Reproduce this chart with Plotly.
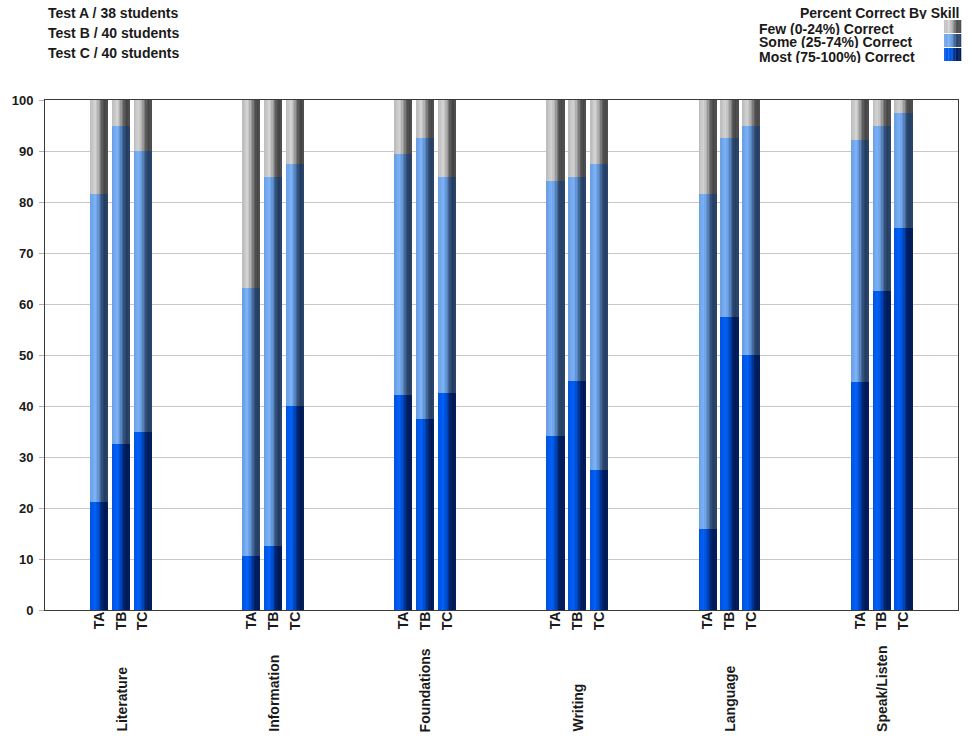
import plotly.graph_objects as go

# ---------------- data ----------------
skills = ["Literature", "Information", "Foundations", "Writing", "Language", "Speak/Listen"]
test_codes = ["TA", "TB", "TC"]
header_lines = ["Test A / 38 students", "Test B / 40 students", "Test C / 40 students"]
legend_title = "Percent Correct By Skill"
segment_names = ["Few (0-24%) Correct", "Some (25-74%) Correct", "Most (75-100%) Correct"]

most_ta = [21.1, 10.5, 42.1, 34.2, 15.8, 44.7]
some_ta = [60.5, 52.7, 47.4, 50.0, 65.8, 47.4]
few_ta = [18.4, 36.8, 10.5, 15.8, 18.4, 7.9]

most_tb = [32.5, 12.5, 37.5, 45.0, 57.5, 62.5]
some_tb = [62.5, 72.5, 55.0, 40.0, 35.0, 32.5]
few_tb = [5.0, 15.0, 7.5, 15.0, 7.5, 5.0]

most_tc = [35.0, 40.0, 42.5, 27.5, 50.0, 75.0]
some_tc = [55.0, 47.5, 42.5, 60.0, 45.0, 22.5]
few_tc = [10.0, 12.5, 15.0, 12.5, 5.0, 2.5]

# ---------------- styling ----------------
W, H = 971, 740
ML, MR, MT, MB = 38, 13, 100, 130
PW, PH = W - ML - MR, H - MT - MB
FONT = "Liberation Sans, Arial, sans-serif"
TXT = "#1a1a1a"

light = {"few": (212, 212, 212), "some": (122, 178, 250), "most": (0, 96, 250)}
dark = {"few": (68, 68, 68), "some": (35, 60, 95), "most": (0, 24, 82)}
profile = [(0.0, 0.18), (0.3, 0.0), (0.5, 0.3), (0.7, 0.82), (0.86, 1.0), (1.0, 0.9)]


def mixw(t):
    for (t0, w0), (t1, w1) in zip(profile[:-1], profile[1:]):
        if t0 <= t <= t1:
            return w0 + (w1 - w0) * (t - t0) / (t1 - t0)
    return profile[-1][1]


def shade(seg, t):
    w = mixw(t)
    a, b = light[seg], dark[seg]
    c = [round(a[i] + (b[i] - a[i]) * w) for i in range(3)]
    return f"rgb({c[0]},{c[1]},{c[2]})"


def interleave(a, b, c):
    return [v for trio in zip(a, b, c) for v in trio]


most_all = interleave(most_ta, most_tb, most_tc)
some_all = interleave(some_ta, some_tb, some_tc)
few_all = interleave(few_ta, few_tb, few_tc)

K = 12
bar_w = 0.114
d = 0.1435
positions = [i + (j - 1) * d for i in range(len(skills)) for j in range(len(test_codes))]
labels = [test_codes[j] for i in range(len(skills)) for j in range(len(test_codes))]

fig = go.Figure()
for k in range(K):
    t = (k + 0.5) / K
    xs = [p - bar_w / 2 + (k + 0.5) * bar_w / K for p in positions]
    for seg, vals in (("most", most_all), ("some", some_all), ("few", few_all)):
        fig.add_trace(go.Bar(
            x=xs, y=vals, width=bar_w / K * 1.25,
            marker=dict(color=shade(seg, t), line=dict(width=0)),
            showlegend=False, hoverinfo="skip",
        ))


def px_x(px):
    return (px - ML) / PW


def px_y(py):
    return (H - MB - py) / PH


annotations = []
for n, line in enumerate(header_lines):
    annotations.append(dict(text=line, xref="paper", yref="paper", x=px_x(39), y=px_y(13 + 20 * n),
                            xanchor="left", yanchor="middle", showarrow=False,
                            font=dict(family=FONT, size=14, color=TXT, weight="bold")))
annotations.append(dict(text=legend_title, xref="paper", yref="paper", x=px_x(961), y=px_y(13),
                        xanchor="right", yanchor="middle", showarrow=False, height=13, borderpad=0,
                        font=dict(family=FONT, size=14, color=TXT, weight="bold")))
for n, name in enumerate(segment_names):
    annotations.append(dict(text=name, xref="paper", yref="paper", x=px_x(756), y=px_y(28 + 14 * n),
                            xanchor="left", yanchor="middle", showarrow=False, height=13, borderpad=0,
                            font=dict(family=FONT, size=14, color=TXT, weight="bold")))
for i, s in enumerate(skills):
    annotations.append(dict(text=s, xref="x", yref="paper", x=i, y=px_y(734),
                            xanchor="center", yanchor="bottom", textangle=-90, showarrow=False,
                            font=dict(family=FONT, size=14, color=TXT, weight="bold")))

# legend swatches (gradient boxes)
shapes = []
sw_l, sw_r = 944, 961
for n, seg in enumerate(("few", "some", "most")):
    top = 20 + 14 * n
    bot = top + 13
    for k in range(K):
        t = (k + 0.5) / K
        x0 = sw_l + (sw_r - sw_l) * k / K
        x1 = sw_l + (sw_r - sw_l) * (k + 1) / K + 0.3
        shapes.append(dict(type="rect", xref="paper", yref="paper",
                           x0=px_x(x0), x1=px_x(x1), y0=px_y(bot), y1=px_y(top),
                           fillcolor=shade(seg, t), line=dict(width=0), layer="above"))

fig.update_layout(
    width=W, height=H,
    margin=dict(l=ML, r=MR, t=MT, b=MB, pad=0),
    paper_bgcolor="white", plot_bgcolor="white",
    barmode="stack",
    showlegend=False,
    annotations=annotations,
    shapes=shapes,
    font=dict(family=FONT, color=TXT),
    xaxis=dict(range=[-0.5, len(skills) - 0.5], tickmode="array", tickvals=positions, ticktext=labels,
               tickangle=-90, showgrid=False, zeroline=False, ticks="", ticklabelstandoff=-5,
               showline=True, mirror=True, linecolor="#3a3a3a", linewidth=1,
               tickfont=dict(family=FONT, size=14, color=TXT, weight="bold")),
    yaxis=dict(range=[0, 100], dtick=10, showgrid=True, gridcolor="#c8c8c8", gridwidth=1,
               zeroline=False, ticks="outside", ticklen=5, tickcolor="#b0b0b0", ticklabelstandoff=3,
               showline=True, mirror=True, linecolor="#3a3a3a", linewidth=1,
               tickfont=dict(family=FONT, size=13, color=TXT, weight="bold")),
)

fig.write_html("out.html", config={"displayModeBar": False},
               post_script="document.body.style.margin='0';document.body.style.overflow='hidden';")
